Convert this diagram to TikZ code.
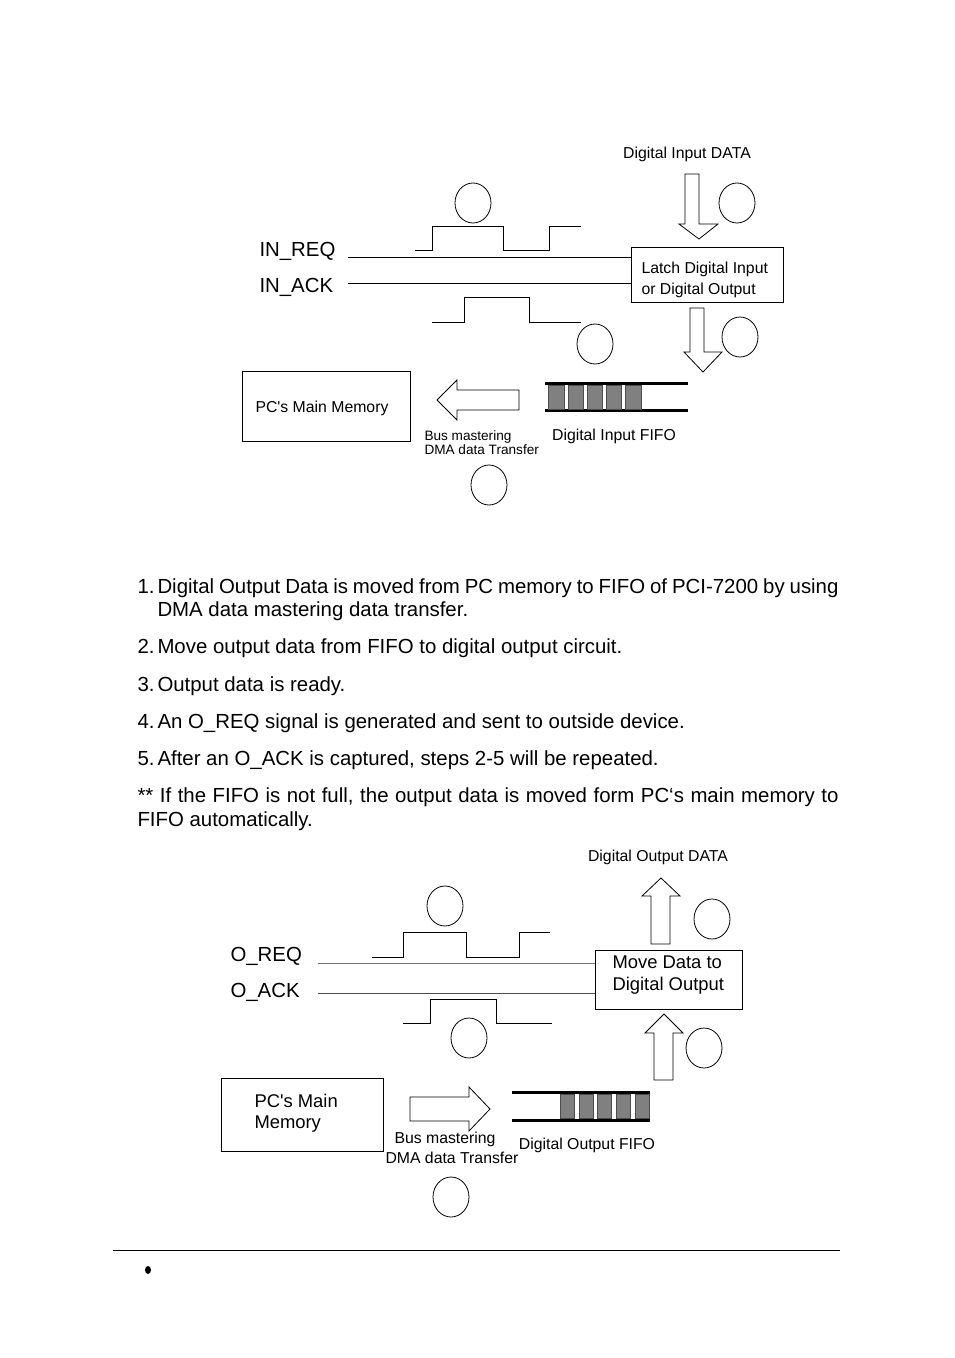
\documentclass[tikz,border=0pt]{standalone}
\usepackage{fontspec}
\setmainfont{Liberation Sans}
\usetikzlibrary{shapes.geometric}
\newcommand\fbody{\fontsize{20.4}{23}\selectfont}
\newcommand\fsmall{\fontsize{15.8}{19}\selectfont}
\newcommand\ftiny{\fontsize{13.6}{15}\selectfont}
\newcommand\fmid{\fontsize{18.4}{21}\selectfont}
\begin{document}
\begin{tikzpicture}[x=1pt,y=-1pt,line width=1pt,
  circ/.style={draw,ellipse,minimum width=36pt,minimum height=40pt,inner sep=0pt,line width=0.8pt},
  boxn/.style={draw,rectangle,inner sep=0pt,line width=0.9pt},
  txt/.style={inner sep=0pt,anchor=base west},
  ctxt/.style={inner sep=0pt,anchor=base},
  blk/.style={fill=black!50,draw=black!70,line width=0.4pt},
  fifoline/.style={line width=3pt},
  barrow/.style={draw,fill=white,line width=0.8pt,line join=miter},
  wave/.style={line width=1pt},
  sig/.style={line width=1pt}]
\useasboundingbox (0,0) rectangle (954,1358);
\fill[white] (0,0) rectangle (954,1358);

% ---------------- top diagram ----------------
\node[ctxt,font=\fsmall] (dinlbl) at (687,158) {Digital Input DATA};
\draw[barrow] (685,174) -- (699,174) -- (699,224) -- (718,224) -- (699,239) -- (679,224) -- (685,224) -- cycle;
\node[circ] (c2) at (737,203) {};
\node[circ] (c1) at (473,203) {};

\node[boxn,minimum width=152pt,minimum height=55pt] (latch) at (707,274.5) {};
\node[txt,font=\fsmall] (latchA) at (641,273) {Latch Digital Input};
\node[txt,font=\fsmall] (latchB) at (641,294) {or Digital Output};

\node[txt,font=\fbody] (inreqlbl) at (259,256) {IN\_REQ};
\node[txt,font=\fbody] (inacklbl) at (259,292) {IN\_ACK};
\coordinate (inreq) at (348,257);
\coordinate (inack) at (348,283);
\draw[sig] (inreq) -- (inreq -| latch.west);
\draw[sig] (inack) -- (inack -| latch.west);

\draw[wave] (415,250) -- (432,250) -- (432,226) -- (503,226) -- (503,250) -- (549,250) -- (549,226) -- (581,226);
\draw[wave] (432,322) -- (464,322) -- (464,297) -- (529,297) -- (529,322) -- (581,322);

\draw[barrow] (690,308) -- (704,308) -- (704,352) -- (722,352) -- (703,372) -- (684,352) -- (690,352) -- cycle;
\node[circ] (c3) at (740,337) {};
\node[circ] (c4) at (595,344) {};

\node[boxn,minimum width=168pt,minimum height=70pt] (pcm1) at (326,406) {};
\node[txt,font=\fsmall] (pcm1t) at (255,412) {PC\textquotesingle s Main Memory};

\draw[barrow] (519,390) -- (457,390) -- (457,380) -- (437,400) -- (457,420) -- (457,410) -- (519,410) -- cycle;

\draw[fifoline] (545,383) -- (688,383);
\draw[fifoline] (545,410.5) -- (688,410.5);
\foreach \a/\b in {548/564,568/583,587/602,606/621,625/641}
  \filldraw[blk] (\a,385) rectangle (\b,409);
\node[ctxt,font=\fsmall] (fifo1) at (614,440) {Digital Input FIFO};
\node[txt,font=\ftiny] (bus1a) at (424,440) {Bus mastering};
\node[txt,font=\ftiny] (bus1b) at (424,454) {DMA data Transfer};
\node[circ] (c5) at (489,485) {};

% ---------------- text ----------------
\node[txt,font=\fbody] (n1) at (137,593) {1.};
\node[txt,font=\fbody] (t1a) at (157,593) {\makebox[681pt][s]{Digital Output Data is moved from PC memory to FIFO of PCI-7200 by using}};
\node[txt,font=\fbody] (t1b) at (157,616) {DMA data mastering data transfer.};
\node[txt,font=\fbody] (n2) at (137,653) {2.};
\node[txt,font=\fbody] (t2) at (157,653) {Move output data from FIFO to digital output circuit.};
\node[txt,font=\fbody] (n3) at (137,691) {3.};
\node[txt,font=\fbody] (t3) at (157,691) {Output data is ready.};
\node[txt,font=\fbody] (n4) at (137,728) {4.};
\node[txt,font=\fbody] (t4) at (157,728) {An O\_REQ signal is generated and sent to outside device.};
\node[txt,font=\fbody] (n5) at (137,765) {5.};
\node[txt,font=\fbody] (t5) at (157,765) {After an O\_ACK is captured, steps 2-5 will be repeated.};
\node[txt,font=\fbody] (t6a) at (137,802) {\makebox[701pt][s]{** If the FIFO is not full, the output data is moved form PC‘s main memory to}};
\node[txt,font=\fbody] (t6b) at (137,826) {FIFO automatically.};

% ---------------- bottom diagram ----------------
\node[ctxt,font=\fsmall] (doutlbl) at (658,861) {Digital Output DATA};
\draw[barrow] (651,944) -- (670,944) -- (670,896) -- (680,896) -- (661,878) -- (642,896) -- (651,896) -- cycle;
\node[circ] (c7) at (712,919) {};
\node[circ] (c6) at (445,906) {};

\node[boxn,minimum width=147pt,minimum height=59pt] (move) at (668.5,979.5) {};
\node[txt,font=\fmid] (moveA) at (612,968) {Move Data to};
\node[txt,font=\fmid] (moveB) at (612,990) {Digital Output};

\node[txt,font=\fbody] (oreqlbl) at (230,961) {O\_REQ};
\node[txt,font=\fbody] (oacklbl) at (230,997) {O\_ACK};
\coordinate (oreq) at (318,963);
\coordinate (oack) at (318,993);
\draw[sig,draw=black!55] (oreq) -- (oreq -| move.west);
\draw[sig,draw=black!70] (oack) -- (oack -| move.west);

\draw[wave] (372,957) -- (403,957) -- (403,932) -- (466,932) -- (466,957) -- (519,957) -- (519,932) -- (550,932);
\draw[wave] (403,1023) -- (430,1023) -- (430,999) -- (496,999) -- (496,1023) -- (552,1023);
\node[circ] (c8) at (469,1038) {};

\draw[barrow] (654,1080) -- (673,1080) -- (673,1033) -- (683,1033) -- (664,1014) -- (645,1033) -- (654,1033) -- cycle;
\node[circ] (c9) at (704,1048) {};

\node[boxn,minimum width=162pt,minimum height=73pt] (pcm2) at (302,1114.5) {};
\node[txt,font=\fmid] (pcm2a) at (254,1107) {PC\textquotesingle s Main};
\node[txt,font=\fmid] (pcm2b) at (254,1128) {Memory};

\draw[barrow] (410,1097) -- (469,1097) -- (469,1087) -- (490,1109) -- (469,1131) -- (469,1121) -- (410,1121) -- cycle;
\node[txt,font=\fsmall] (bus2a) at (394,1143) {Bus mastering};
\node[txt,font=\fsmall] (bus2b) at (385,1163) {DMA data Transfer};

\draw[fifoline] (512,1092) -- (650,1092);
\draw[fifoline] (512,1120) -- (650,1120);
\foreach \a/\b in {560/574,579/593,597/611,616/630,635/649}
  \filldraw[blk] (\a,1094) rectangle (\b,1118);
\node[ctxt,font=\fsmall] (fifo2) at (587,1149) {Digital Output FIFO};
\node[circ] (c10) at (451,1197) {};

% ---------------- footer ----------------
\coordinate (fl) at (113,1250);
\coordinate (fr) at (840,1250);
\draw[line width=1pt] (fl) -- (fr);
\fill (148,1270) ellipse (3pt and 4pt);
\end{tikzpicture}
\end{document}
